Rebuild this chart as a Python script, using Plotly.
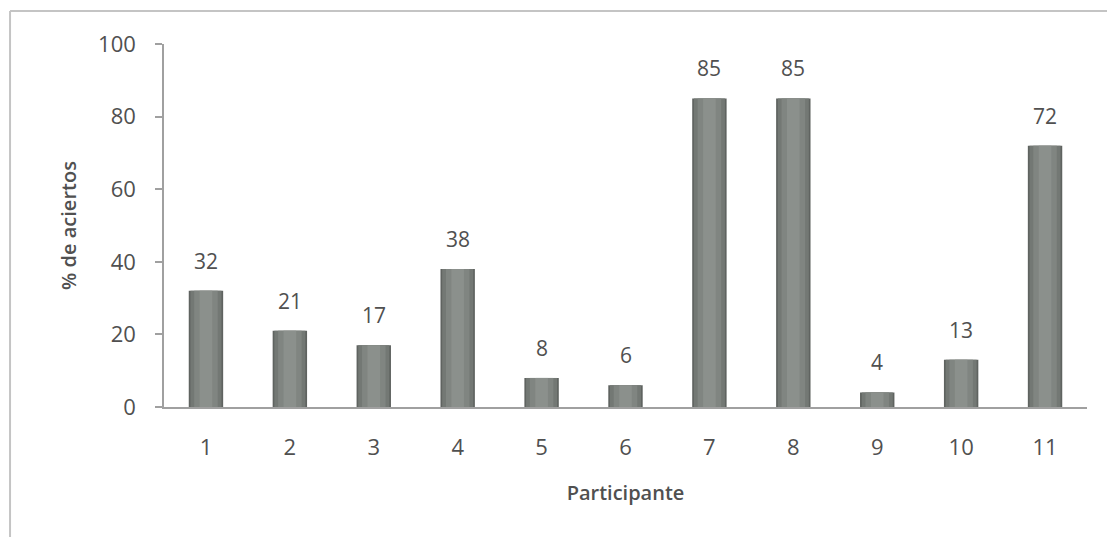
import plotly.graph_objects as go

participantes = ["1", "2", "3", "4", "5", "6", "7", "8", "9", "10", "11"]
aciertos = [32, 21, 17, 38, 8, 6, 85, 85, 4, 13, 72]
y_ticks = [0, 20, 40, 60, 80, 100]

FONT = "Open Sans, Lato, sans-serif"
TXT = "#505050"

fig = go.Figure()
# layered bars to mimic the shaded cylinder look
layers = [(0.41, "#5f6360"), (0.37, "#737874"), (0.28, "#808581"), (0.15, "#8b908c")]
for i, (w, c) in enumerate(layers):
    fig.add_trace(go.Bar(
        x=participantes, y=aciertos, width=w,
        marker=dict(color=c, line=dict(width=0)),
        hoverinfo="skip" if i else None,
        showlegend=False,
    ))

# value labels (category axis: annotation x given as category index)
for idx, v in enumerate(aciertos):
    fig.add_annotation(x=idx, y=v, text=str(v), showarrow=False,
                       yanchor="bottom", yshift=14,
                       font=dict(family=FONT, size=21, color=TXT))

fig.update_layout(
    width=1107, height=537,
    barmode="overlay",
    plot_bgcolor="white", paper_bgcolor="white",
    margin=dict(l=164, r=20, t=44, b=130),
    font=dict(family=FONT, color=TXT),
    xaxis=dict(
        type="category",
        range=[-0.5, len(participantes) - 0.5],
        showline=True, linecolor="#a0a0a0", linewidth=1.5,
        ticks="", tickfont=dict(size=22, color=TXT),
        ticklabelstandoff=20,
        title=dict(text="Participante", font=dict(size=20, color=TXT, weight=600), standoff=26),
        showgrid=False,
    ),
    yaxis=dict(
        range=[0, 100], tickvals=y_ticks,
        showline=True, linecolor="#a0a0a0", linewidth=1.5,
        ticks="outside", ticklen=7, tickcolor="#a0a0a0", tickwidth=1.5,
        ticklabelstandoff=15,
        tickfont=dict(size=22, color=TXT),
        title=dict(text="% de aciertos", font=dict(size=20, color=TXT, weight=600), standoff=16),
        showgrid=False, zeroline=False,
    ),
    shapes=[
        dict(type="line", xref="paper", yref="paper", x0=-0.1668, x1=1.0217, y0=1.0909, y1=1.0909,
             line=dict(color="#c4c4c4", width=2)),
        dict(type="line", xref="paper", yref="paper", x0=-0.1668, x1=-0.1668, y0=1.0909, y1=-0.36,
             line=dict(color="#c4c4c4", width=2)),
    ],
)

fig.write_html("out.html")
